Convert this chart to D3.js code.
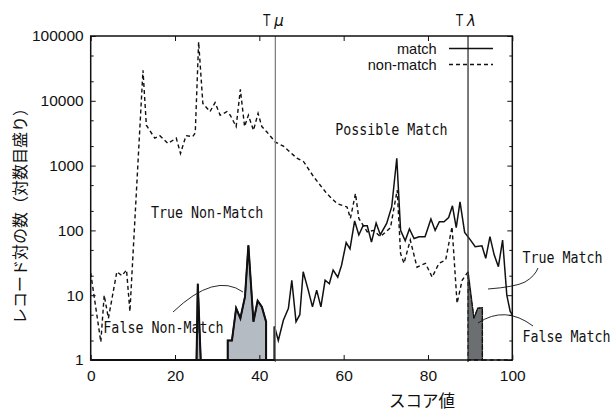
<!DOCTYPE html>
<html>
<head>
<meta charset="utf-8">
<script src="https://cdn.jsdelivr.net/npm/d3@7"></script>
<style>
    body { margin: 0; background: #fff; }
    .tick text { font-family: "Liberation Sans", Arial, sans-serif; font-size: 15.5px; fill: #111; }
    .tick line { stroke: #111; stroke-width: 1; }
    .zone { font-family: "DejaVu Sans Mono", monospace; font-size: 15.5px; fill: #111; }
</style>
</head>
<body>
<div id="chart"></div>
<script>

// score / count pairs (0 = nothing, drawn on the floor)
var matchCounts = [
    [0, 0], [25.1, 0], [25.4, 15], [26.1, 0], [32.5, 0], [32.5, 2], [33.5, 2], [34.5, 6.3],
    [35.5, 4.4], [36.6, 9.5], [37.4, 59], [38.6, 3.9], [39.6, 8.2], [40.6, 6.6], [41.6, 3.9],
    [41.6, 0], [43.6, 0], [43.6, 3.3], [44.5, 2.0], [45.7, 4.1], [46.9, 6.3], [47.7, 17],
    [48.7, 3.9], [49.6, 5], [50.4, 23], [51.6, 12], [52.6, 6.6], [53.6, 12], [54.6, 6.6],
    [55.6, 17], [56.6, 15], [57.5, 24.5], [58.6, 19], [59.5, 29], [60.6, 65], [61.5, 52],
    [62.6, 140], [63.6, 85], [64.6, 118], [65.6, 118], [66.6, 66], [67.7, 130], [68.7, 86],
    [70.2, 128], [71.4, 232], [72.6, 1300], [73.5, 100], [74.6, 69], [75.6, 105], [76.7, 75],
    [77.9, 80], [79.3, 80], [80.7, 150], [81.7, 100], [82.7, 136], [83.8, 136], [84.9, 158],
    [85.8, 240], [86.7, 110], [87.6, 275], [88.7, 93], [90, 72], [91.2, 56], [92.8, 58],
    [93.7, 37], [94.7, 80], [95.7, 42], [96.7, 27.5], [97.7, 71], [98.7, 10], [99.5, 5.6],
    [100, 5]
];

var nonMatchCounts = [
    [0, 22], [2.4, 1.9], [3.2, 10], [4.2, 4.4], [6.2, 23], [7.4, 20], [8.5, 24.5], [9.3, 5.6],
    [12.4, 29500], [13.2, 4200], [15.2, 2650], [16.4, 2900], [18.3, 2200], [20.3, 2650],
    [21.3, 1540], [22.6, 2900], [24.2, 2800], [24.8, 3200], [25.6, 81000], [26.6, 9100],
    [28.3, 6800], [29.5, 9400], [30.7, 6000], [32.3, 6800], [33.1, 6000], [34.5, 4000],
    [35.5, 15000], [36.5, 4000], [37.4, 6000], [38.6, 3500], [39.7, 6400], [40.6, 4000],
    [41.8, 3300], [43.8, 2300], [45.7, 2000], [48.9, 1300], [50.5, 1150], [52.9, 670],
    [56, 370], [58.4, 260], [60.8, 230], [61.6, 153], [62.8, 370], [63.6, 153], [65.6, 95],
    [67.1, 100], [68.7, 80], [71.1, 110], [72.7, 420], [73.5, 44], [74.3, 31], [75.8, 71],
    [77.4, 27], [79.4, 31], [81, 19], [82.6, 31], [84.2, 35], [85.7, 114], [86.9, 7.5],
    [88.1, 17], [89.5, 23], [90.9, 4.4], [91.8, 6.3], [92.9, 6.4], [92.9, 0], [100, 0]
];

var thresholds = [
    { name: 'μ', score: 43.8, color: '#808080' },
    { name: 'λ', score: 89.5, color: '#333' }
];

var xTicks = [0, 20, 40, 60, 80, 100];
var yTicks = [1, 10, 100, 1000, 10000, 100000];
var yMinorTicks = [2, 5, 20, 50, 200, 500, 2000, 5000, 20000, 50000];

var zoneLabels = [
    { text: 'True Non-Match', score: 14.3, count: 154 },
    { text: 'False Non-Match', score: 3.0, count: 2.58 },
    { text: 'Possible Match', score: 58.0, count: 2960 },
    { text: 'True Match', score: 102.4, count: 31.7 },
    { text: 'False Match', score: 102.4, count: 1.92 }
];

var _width = 614,
    _height = 412,
    _left = 90.7,
    _right = 512.3,
    _top = 36,
    _bottom = 360,
    _squeeze = 0.86  // the labels use a narrow monospace face
    ;

var x = d3.scaleLinear().domain([0, 100]).range([_left, _right]);
var y = d3.scaleLog().domain([1, 100000]).range([_bottom, _top]);

var yOf = function (v) { return y(Math.max(v, 1)); };

var svg = d3.select('#chart').append('svg')
    .attr('width', _width)
    .attr('height', _height);

// SHADED ZONES
// ----------------------------------------------------------------

var area = d3.area()
    .x(function (d) { return x(d[0]); })
    .y0(_bottom)
    .y1(function (d) { return yOf(d[1]); });

var falseNonMatch = matchCounts.filter(function (d) { return d[0] <= thresholds[0].score; });
svg.append('path')
    .datum(falseNonMatch)
    .attr('d', area)
    .attr('fill', '#b5bbc3')
    .attr('stroke', '#111')
    .attr('stroke-width', 2)
    .attr('stroke-linejoin', 'miter');

var falseMatch = nonMatchCounts.filter(function (d) { return d[0] >= thresholds[1].score && d[0] <= 93; });
svg.append('path')
    .datum(falseMatch)
    .attr('d', area)
    .attr('fill', '#6b6f72')
    .attr('stroke', '#111')
    .attr('stroke-width', 1.3)
    .attr('stroke-dasharray', '4,3');

// LINES
// ----------------------------------------------------------------

var line = d3.line()
    .x(function (d) { return x(d[0]); })
    .y(function (d) { return yOf(d[1]); });

svg.append('path')
    .datum(nonMatchCounts)
    .attr('d', line)
    .attr('fill', 'none')
    .attr('stroke', '#111')
    .attr('stroke-width', 1.4)
    .attr('stroke-dasharray', '4,3');

svg.append('path')
    .datum(matchCounts)
    .attr('d', line)
    .attr('fill', 'none')
    .attr('stroke', '#111')
    .attr('stroke-width', 1.5)
    .attr('stroke-linejoin', 'miter');

// THRESHOLDS
// ----------------------------------------------------------------

var gThresh = svg.selectAll('.threshold')
    .data(thresholds)
    .enter().append('g')
    .attr('class', 'threshold');

gThresh.append('line')
    .attr('x1', function (d) { return x(d.score); })
    .attr('x2', function (d) { return x(d.score); })
    .attr('y1', _top)
    .attr('y2', _bottom + 2)
    .attr('stroke', function (d) { return d.color; })
    .attr('stroke-width', 1.3);

var threshText = gThresh.append('text')
    .attr('x', function (d) { return x(d.score) - 12; })
    .attr('y', 26)
    .style('font-family', '"DejaVu Sans", sans-serif')
    .style('font-size', '15px')
    .attr('fill', '#111');
threshText.append('tspan').text('T').attr('textLength', 7).attr('lengthAdjust', 'spacingAndGlyphs');
threshText.append('tspan').attr('dx', 4).style('font-style', 'italic').text(function (d) { return d.name; });

// AXES
// ----------------------------------------------------------------

svg.append('g')
    .attr('transform', 'translate(' + _left + ',0)')
    .call(d3.axisLeft(y).tickValues(yTicks).tickSize(-5).tickPadding(7).tickFormat(d3.format('d')))
    .call(function (g) { g.select('.domain').remove(); });

svg.append('g')
    .attr('transform', 'translate(' + _left + ',0)')
    .call(d3.axisLeft(y).tickValues(yMinorTicks).tickSize(-3).tickFormat(''))
    .call(function (g) { g.select('.domain').remove(); });

svg.append('g')
    .attr('transform', 'translate(' + _right + ',0)')
    .call(d3.axisRight(y).tickValues(yTicks).tickSize(-5).tickFormat(''))
    .call(function (g) { g.select('.domain').remove(); });

svg.append('g')
    .attr('transform', 'translate(' + _right + ',0)')
    .call(d3.axisRight(y).tickValues(yMinorTicks).tickSize(-3).tickFormat(''))
    .call(function (g) { g.select('.domain').remove(); });

svg.append('g')
    .attr('transform', 'translate(0,' + _bottom + ')')
    .call(d3.axisBottom(x).tickValues(xTicks).tickSize(-5).tickPadding(10).tickFormat(d3.format('d')))
    .call(function (g) { g.select('.domain').remove(); });

svg.append('g')
    .attr('transform', 'translate(0,' + _top + ')')
    .call(d3.axisTop(x).tickValues(xTicks).tickSize(-5).tickFormat(''))
    .call(function (g) { g.select('.domain').remove(); });

svg.append('rect')
    .attr('x', _left)
    .attr('y', _top)
    .attr('width', _right - _left)
    .attr('height', _bottom - _top)
    .attr('fill', 'none')
    .attr('stroke', '#111')
    .attr('stroke-width', 1.5);

svg.append('text')
    .attr('x', 422)
    .attr('y', 407)
    .attr('text-anchor', 'middle')
    .style('font-family', '"Noto Sans CJK JP", sans-serif')
    .style('font-size', '16.5px')
    .attr('fill', '#111')
    .text('スコア値');

svg.append('text')
    .attr('transform', 'translate(26,212) rotate(-90)')
    .attr('text-anchor', 'middle')
    .style('font-family', '"Noto Sans CJK JP", sans-serif')
    .style('font-size', '16px')
    .attr('fill', '#111')
    .text('レコード対の数（対数目盛り）');

// LEGEND
// ----------------------------------------------------------------

var legend = [
    { label: 'match', dash: null, yPos: 48.5 },
    { label: 'non-match', dash: '4,3', yPos: 64.5 }
];

var gLegend = svg.selectAll('.legend')
    .data(legend)
    .enter().append('g')
    .attr('class', 'legend');

gLegend.append('text')
    .attr('x', 436.7)
    .attr('y', function (d) { return d.yPos + 5; })
    .attr('text-anchor', 'end')
    .style('font-family', '"Liberation Sans", Arial, sans-serif')
    .style('font-size', '14.6px')
    .attr('fill', '#111')
    .text(function (d) { return d.label; });

gLegend.append('line')
    .attr('x1', 449)
    .attr('x2', 493)
    .attr('y1', function (d) { return d.yPos; })
    .attr('y2', function (d) { return d.yPos; })
    .attr('stroke', '#111')
    .attr('stroke-width', 1.5)
    .attr('stroke-dasharray', function (d) { return d.dash; });

// ZONE LABELS AND POINTERS
// ----------------------------------------------------------------

svg.selectAll('.zone')
    .data(zoneLabels)
    .enter().append('text')
    .attr('class', 'zone')
    .attr('transform', function (d) {
        return 'translate(' + x(d.score) + ',' + y(d.count) + ') scale(' + _squeeze + ',1)';
    })
    .text(function (d) { return d.text; });

var pointers = [
    'M173,312 Q215,272 243,292',
    'M488,289 Q515,287 525,282 Q535,276 538,268',
    'M478,323 Q505,305 533,326'
];

svg.selectAll('.pointer')
    .data(pointers)
    .enter().append('path')
    .attr('class', 'pointer')
    .attr('d', function (d) { return d; })
    .attr('fill', 'none')
    .attr('stroke', '#111')
    .attr('stroke-width', 0.9);

</script>
</body>
</html>
